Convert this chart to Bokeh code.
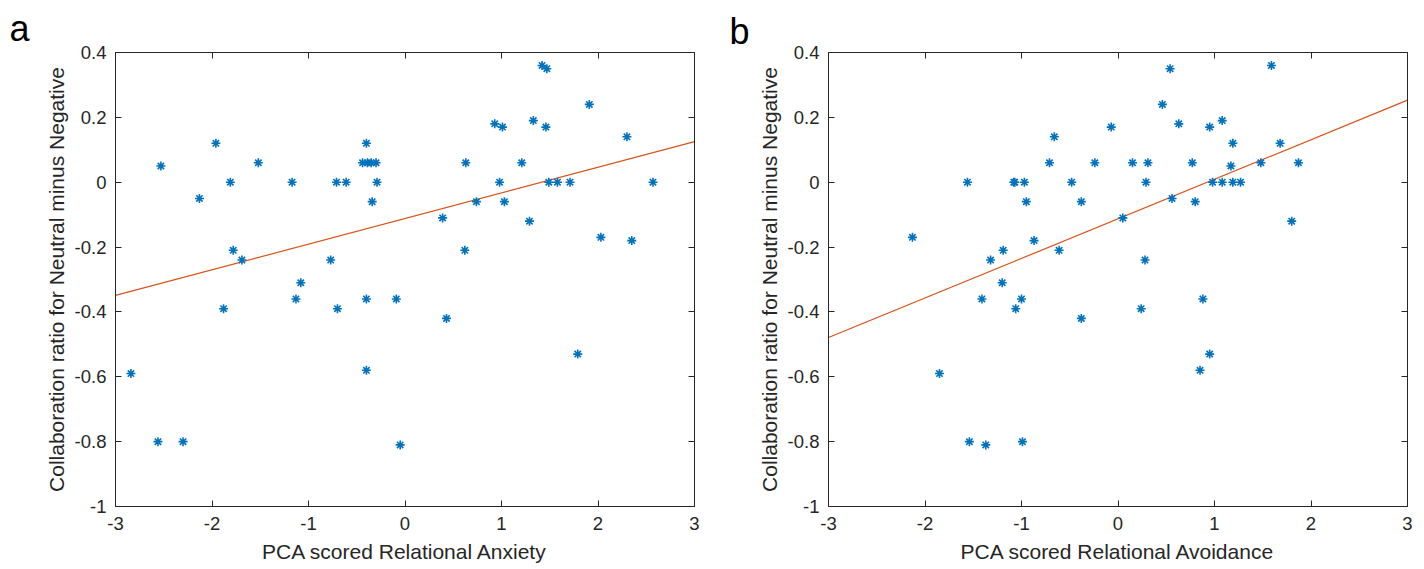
from bokeh.plotting import figure
from bokeh.layouts import row
from bokeh.models import Range1d, FixedTicker, LinearAxis, ColumnDataSource
from bokeh.embed import file_html
from bokeh.resources import INLINE

# ---------------- data ----------------
anxiety_x = [-2.84, -2.56, -2.30, -2.53, -2.13, -1.96, -1.81, -1.78, -1.69, -1.88,
             -1.52, -1.17, -1.08, -1.13, -0.77, -0.71, -0.61, -0.70, -0.44, -0.39,
             -0.35, -0.30, -0.40, -0.34, -0.29, -0.40, -0.40, -0.09, -0.05, 0.39,
             0.43, 0.62, 0.63, 0.74, 0.93, 0.98, 1.01, 1.03, 1.21, 1.29,
             1.33, 1.42, 1.46, 1.47, 1.49, 1.58, 1.71, 1.79, 1.91, 2.03,
             2.30, 2.35, 2.57]
anxiety_y = [-0.59, -0.80, -0.80, 0.05, -0.05, 0.12, 0.00, -0.21, -0.24, -0.39,
             0.06, 0.00, -0.31, -0.36, -0.24, 0.00, 0.00, -0.39, 0.06, 0.06,
             0.06, 0.06, 0.12, -0.06, 0.00, -0.36, -0.58, -0.36, -0.81, -0.11,
             -0.42, -0.21, 0.06, -0.06, 0.18, 0.00, 0.17, -0.06, 0.06, -0.12,
             0.19, 0.36, 0.17, 0.35, 0.00, 0.00, 0.00, -0.53, 0.24, -0.17,
             0.14, -0.18, 0.00]

avoid_x = [-2.13, -1.85, -1.56, -1.54, -1.41, -1.37, -1.32, -1.20, -1.19, -1.08,
           -1.07, -1.06, -1.00, -0.99, -0.97, -0.95, -0.87, -0.71, -0.66, -0.61,
           -0.48, -0.38, -0.38, -0.24, -0.07, 0.05, 0.15, 0.24, 0.28, 0.29,
           0.31, 0.46, 0.54, 0.56, 0.63, 0.77, 0.80, 0.85, 0.88, 0.95,
           0.95, 0.98, 1.08, 1.08, 1.17, 1.19, 1.19, 1.27, 1.48, 1.59,
           1.68, 1.80, 1.87]
avoid_y = [-0.17, -0.59, 0.00, -0.80, -0.36, -0.81, -0.24, -0.31, -0.21, 0.00,
           0.00, -0.39, -0.36, -0.80, 0.00, -0.06, -0.18, 0.06, 0.14, -0.21,
           0.00, -0.06, -0.42, 0.06, 0.17, -0.11, 0.06, -0.39, -0.24, 0.00,
           0.06, 0.24, 0.35, -0.05, 0.18, 0.06, -0.06, -0.58, -0.36, 0.17,
           -0.53, 0.00, 0.19, 0.00, 0.05, 0.12, 0.00, 0.00, 0.06, 0.36,
           0.12, -0.12, 0.06]

# least-squares lines (slope, intercept)
fit_a = (0.079, -0.112)
fit_b = (0.122, -0.113)

x_ticks = [-3, -2, -1, 0, 1, 2, 3]
x_tick_labels = ["-3", "-2", "-1", "0", "1", "2", "3"]
y_ticks = [-1, -0.8, -0.6, -0.4, -0.2, 0, 0.2, 0.4]
y_tick_labels = ["-1", "-0.8", "-0.6", "-0.4", "-0.2", "0", "0.2", "0.4"]

y_label = "Collaboration ratio for Neutral minus Negative"
x_label_a = "PCA scored Relational Anxiety"
x_label_b = "PCA scored Relational Avoidance"
panel_letters = ["a", "b"]

FONT = "Liberation Sans"
AX = "#262626"
BLUE = "#0072BD"
ORANGE = "#D95319"
H = 569


def style_axis(ax, ticks, labels, show_labels):
    ax.ticker = FixedTicker(ticks=ticks)
    ax.axis_line_color = AX
    ax.axis_line_width = 1
    ax.major_tick_line_color = AX
    ax.major_tick_in = 6
    ax.major_tick_out = 0
    ax.minor_tick_line_color = None
    ax.major_label_text_font = FONT
    ax.major_label_text_color = AX
    ax.axis_label_text_font = FONT
    ax.axis_label_text_font_size = "21px"
    ax.axis_label_text_font_style = "normal"
    ax.axis_label_text_color = AX
    if show_labels:
        ax.major_label_overrides = {t: l for t, l in zip(ticks, labels)}
        ax.major_label_text_font_size = "18.5px"
    else:
        ax.major_label_overrides = {t: "" for t in ticks}
        ax.major_label_text_font_size = "0px"
        ax.major_label_standoff = 0
        ax.axis_label_standoff = 0


def make_panel(xs, ys, fit, xlabel, letter, width, left, top, right):
    p = figure(width=width, height=H, output_backend="svg", toolbar_location=None,
               x_range=Range1d(-3, 3), y_range=Range1d(-1, 0.4),
               min_border_left=left, min_border_right=right,
               min_border_top=top, min_border_bottom=H - top - 456)
    p.grid.visible = False
    p.outline_line_color = None
    p.background_fill_color = "white"
    p.border_fill_color = "white"

    # panel letter as the (left-aligned, shifted) title
    text, offset, standoff = letter
    p.title.text = text
    p.title.align = "left"
    p.title.offset = offset
    p.title.standoff = standoff
    p.title.text_font = FONT
    p.title.text_font_size = "36px"
    p.title.text_font_style = "normal"
    p.title.text_color = "black"

    style_axis(p.xaxis[0], x_ticks, x_tick_labels, True)
    style_axis(p.yaxis[0], y_ticks, y_tick_labels, True)
    p.xaxis[0].axis_label = xlabel
    p.xaxis[0].major_label_standoff = 10
    p.xaxis[0].axis_label_standoff = 7
    p.yaxis[0].axis_label = y_label
    p.yaxis[0].major_label_standoff = 9
    p.yaxis[0].axis_label_standoff = 4

    top_ax = LinearAxis()
    style_axis(top_ax, x_ticks, x_tick_labels, False)
    p.add_layout(top_ax, "above")
    right_ax = LinearAxis()
    style_axis(right_ax, y_ticks, y_tick_labels, False)
    p.add_layout(right_ax, "right")

    slope, intercept = fit
    lx = [x_ticks[0], x_ticks[-1]]
    ly = [intercept + slope * v for v in lx]
    p.line(lx, ly, line_color=ORANGE, line_width=1.2)

    src = ColumnDataSource(dict(x=xs, y=ys))
    p.scatter("x", "y", source=src, marker="asterisk", size=9,
              line_color=BLUE, line_width=1.6)
    return p


pa = make_panel(anxiety_x, anxiety_y, fit_a, x_label_a, (panel_letters[0], -106, 7),
                720, 115, 50, 26)
pb = make_panel(avoid_x, avoid_y, fit_b, x_label_b, (panel_letters[1], -99, 2),
                704, 108, 52, 17)

layout = row(pa, pb, spacing=0)
open("out.html", "w").write(file_html(layout, INLINE))
